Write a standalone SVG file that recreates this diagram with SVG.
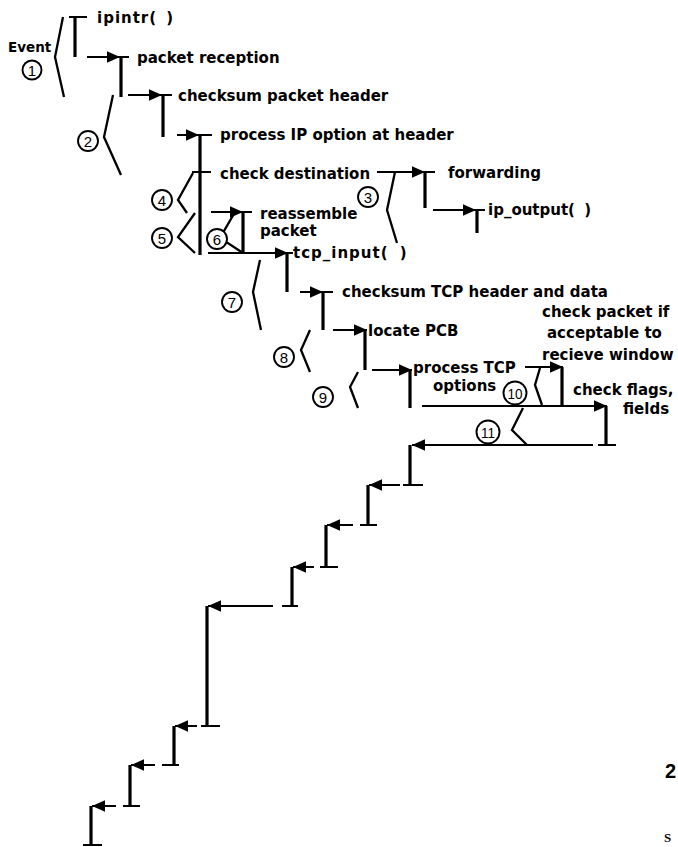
<svg xmlns="http://www.w3.org/2000/svg" width="678" height="847" viewBox="0 0 678 847">
<style>
.t{font-family:"DejaVu Sans",sans-serif;font-weight:bold;font-size:15px;fill:#000}
.n{font-family:"Liberation Sans",sans-serif;font-size:15px;text-anchor:middle;fill:#000}
.c{fill:#fff;stroke:#000;stroke-width:1.9}
.br{fill:none;stroke:#000;stroke-width:2.3}
.st{fill:none;stroke:#000;stroke-width:3.2}
.bar{fill:none;stroke:#000;stroke-width:2}
.ar{fill:none;stroke:#000;stroke-width:2;marker-end:url(#ah)}
</style>
<defs>
<marker id="ah" markerUnits="userSpaceOnUse" markerWidth="14" markerHeight="12" refX="13" refY="6" orient="auto"><path d="M0,0.3 L13,6 L0,11.7 z" fill="#000"/></marker>
</defs>
<rect width="678" height="847" fill="#fff"/>

<g id="connectors">
<line class="ar" x1="87" y1="57" x2="120" y2="57"/>
<line class="ar" x1="128" y1="95" x2="162" y2="95"/>
<line class="ar" x1="177" y1="135" x2="199" y2="135"/>
<line class="ar" x1="377" y1="172" x2="425" y2="172"/>
<line class="ar" x1="433" y1="210" x2="476" y2="210"/>
<line class="ar" x1="211" y1="212" x2="243" y2="212"/>
<line class="ar" x1="208" y1="253" x2="288" y2="253"/>
<line class="ar" x1="300" y1="292" x2="323" y2="292"/>
<line class="ar" x1="333" y1="330" x2="367" y2="330"/>
<line class="ar" x1="372" y1="370" x2="412" y2="370"/>
<line class="ar" x1="525" y1="367" x2="563" y2="367"/>
<line class="ar" x1="422" y1="406" x2="607" y2="406"/>
<line class="ar" x1="593" y1="445" x2="412" y2="445"/>
<line class="ar" x1="400" y1="485" x2="369" y2="485"/>
<line class="ar" x1="353" y1="525" x2="327" y2="525"/>
<line class="ar" x1="314" y1="567" x2="293" y2="567"/>
<line class="ar" x1="273" y1="606" x2="208" y2="606"/>
<line class="ar" x1="197" y1="726" x2="175" y2="726"/>
<line class="ar" x1="155" y1="765" x2="131" y2="765"/>
<line class="ar" x1="116" y1="806" x2="92" y2="806"/>
</g>

<g id="n-ipintr"><path class="bar" d="M69,17 H87"/><path class="st" d="M75,17 V57"/><text class="t" x="97" y="23" style="letter-spacing:1px">ipintr(<tspan dx="3"> )</tspan></text></g>
<g id="n-packet-reception"><path class="bar" d="M113,57 H129"/><path class="st" d="M121,57 V97"/><text class="t" x="137" y="63">packet reception</text></g>
<g id="n-checksum-header"><path class="bar" d="M155,95 H172"/><path class="st" d="M163,95 V137"/><text class="t" x="178" y="101">checksum packet header</text></g>
<g id="n-process-ip"><path class="bar" d="M190,135 H212"/><path class="st" d="M200,135 V255"/><text class="t" x="220" y="140">process IP option at header</text></g>
<g id="n-check-destination"><path class="bar" d="M192,172 H211"/><text class="t" x="220" y="179">check destination</text></g>
<g id="n-forwarding"><path class="bar" d="M417,172 H435"/><path class="st" d="M425,172 V208"/><text class="t" x="448" y="178">forwarding</text></g>
<g id="n-ip-output"><path class="bar" d="M469,210 H485"/><path class="st" d="M477,210 V233"/><text class="t" x="488" y="215">ip_output(<tspan dx="4"> )</tspan></text></g>
<g id="n-reassemble"><path class="bar" d="M235,212 H252"/><path class="st" d="M243,212 V253"/><text class="t" x="260" y="219">reassemble</text><text class="t" x="260" y="236">packet</text></g>
<g id="n-tcp-input"><path class="bar" d="M282,253 H293"/><path class="st" d="M287,253 V292"/><text class="t" x="293" y="258" style="letter-spacing:1px">tcp_input(<tspan dx="5"> )</tspan></text></g>
<g id="n-checksum-tcp"><path class="bar" d="M315,292 H333"/><path class="st" d="M323,292 V330"/><text class="t" x="342" y="297">checksum TCP header and data</text></g>
<g id="n-locate-pcb"><path class="st" d="M365,330 V370"/><text class="t" x="368" y="336">locate PCB</text></g>
<g id="n-process-tcp"><path class="st" d="M410,370 V408"/><text class="t" x="413" y="373">process TCP</text><text class="t" x="433" y="391">options</text></g>
<g id="n-check-packet"><path class="st" d="M562,367 V406"/><text class="t" x="542" y="317">check packet if</text><text class="t" x="547" y="338">acceptable to</text><text class="t" x="542" y="360">recieve window</text></g>
<g id="n-check-flags"><path class="st" d="M606,406 V445"/><path class="bar" d="M598,445 H616"/><text class="t" x="573" y="395">check flags,</text><text class="t" x="623" y="414">fields</text></g>

<g id="return-steps">
<path class="st" d="M410,445 V485"/><path class="bar" d="M403,485 H423"/>
<path class="st" d="M368,485 V525"/><path class="bar" d="M360,525 H377"/>
<path class="st" d="M326,525 V567"/><path class="bar" d="M320,567 H338"/>
<path class="st" d="M292,567 V606"/><path class="bar" d="M282,606 H298"/>
<path class="st" d="M207,606 V726"/><path class="bar" d="M201,726 H220"/>
<path class="st" d="M174,726 V765"/><path class="bar" d="M162,765 H179"/>
<path class="st" d="M130,765 V806"/><path class="bar" d="M123,806 H140"/>
<path class="st" d="M91,806 V845"/><path class="bar" d="M83,845 H102"/>
</g>

<g id="event-1"><polyline class="br" points="63,17 55,57 64,97"/><text class="t" x="8" y="52" style="font-size:13.5px">Event</text><circle class="c" cx="32" cy="70" r="9.5"/><text class="n" x="32" y="75.5">1</text></g>
<g id="event-2"><polyline class="br" points="113,95 104,137 121,175"/><circle class="c" cx="88" cy="141" r="10"/><text class="n" x="88" y="146.5">2</text></g>
<g id="event-3"><polyline class="br" points="395,172 387,210 397,243"/><circle class="c" cx="368" cy="197" r="10"/><text class="n" x="368" y="202.5">3</text></g>
<g id="event-4"><polyline class="br" points="193,173 178,200 187,213"/><circle class="c" cx="162" cy="200" r="10"/><text class="n" x="162" y="205.5">4</text></g>
<g id="event-5"><polyline class="br" points="195,213 178,237 195,253"/><circle class="c" cx="162" cy="238" r="10"/><text class="n" x="162" y="243.5">5</text></g>
<g id="event-6"><polyline class="br" points="235,212 220,238 243,253"/><circle class="c" cx="217" cy="239" r="10"/><text class="n" x="217" y="244.5">6</text></g>
<g id="event-7"><polyline class="br" points="260,260 253,292 261,330"/><circle class="c" cx="232" cy="302" r="10"/><text class="n" x="232" y="307.5">7</text></g>
<g id="event-8"><polyline class="br" points="310,330 301,350 310,372"/><circle class="c" cx="284" cy="357" r="10"/><text class="n" x="284" y="362.5">8</text></g>
<g id="event-9"><polyline class="br" points="358,372 350,387 358,408"/><circle class="c" cx="323" cy="397" r="10"/><text class="n" x="323" y="402.5">9</text></g>
<g id="event-10"><polyline class="br" points="540,368 535,385 542,405"/><circle class="c" cx="515" cy="393" r="11.5"/><text class="n" x="515" y="398.5" textLength="15" lengthAdjust="spacingAndGlyphs">10</text></g>
<g id="event-11"><polyline class="br" points="523,408 512,430 527,445"/><circle class="c" cx="488" cy="432" r="11.5"/><text class="n" x="488" y="437.5" textLength="14" lengthAdjust="spacingAndGlyphs">11</text></g>

<text x="665" y="778" style="font-family:'Liberation Sans',sans-serif;font-weight:bold;font-size:20px">2</text>
<text x="664" y="842" style="font-family:'Liberation Serif',serif;font-weight:bold;font-size:13px">S</text>
</svg>
